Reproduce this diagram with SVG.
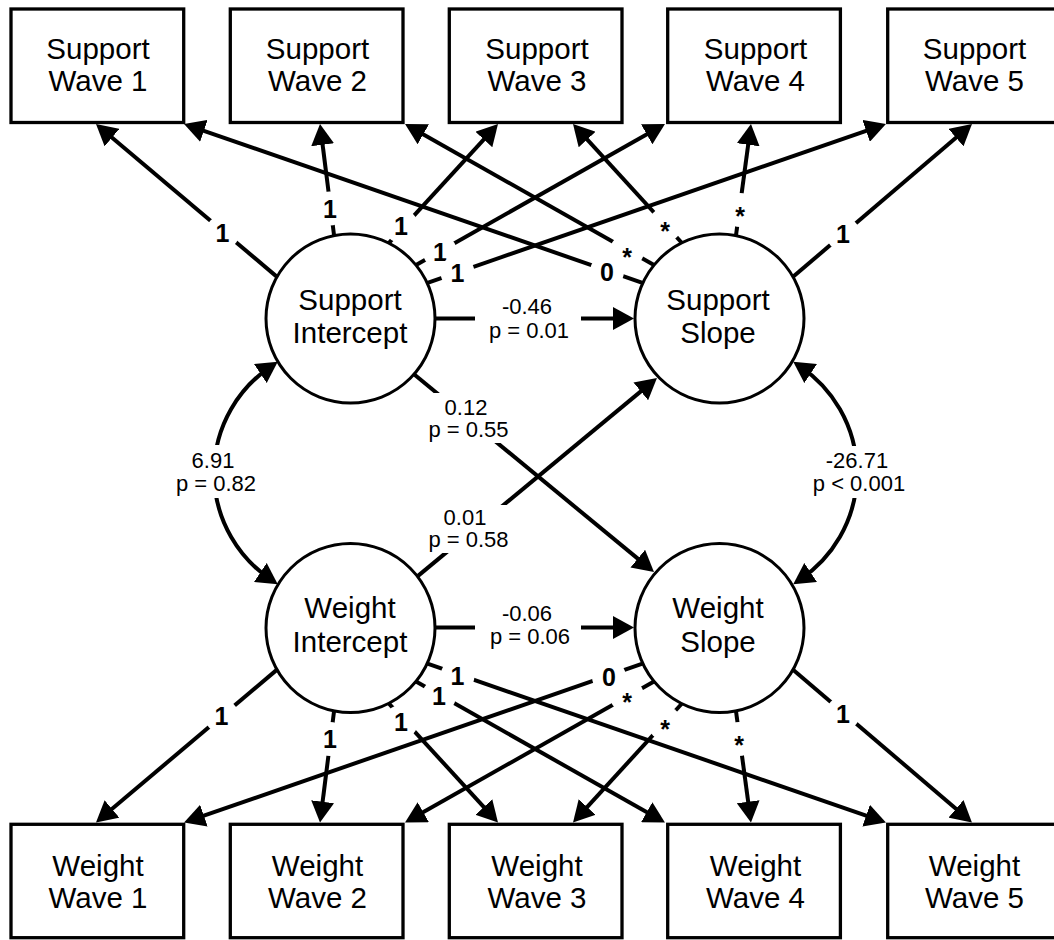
<svg xmlns="http://www.w3.org/2000/svg" width="1054" height="940" viewBox="0 0 1054 940">
<defs>
<marker id="ah" markerUnits="userSpaceOnUse" markerWidth="21" markerHeight="23" viewBox="0 0 21 23" refX="13" refY="11.5" orient="auto-start-reverse">
<path d="M0,0 L21,11.5 L0,23 Z" fill="#000"/>
</marker>
<style>
.box{fill:#fff;stroke:#000;stroke-width:3.3}
.lat{fill:#fff;stroke:#000;stroke-width:3}
.ntx{font-family:"Liberation Sans",Arial,sans-serif;font-size:29.5px;fill:#000;text-anchor:middle}
.c{fill:none;stroke:#000;stroke-width:4;marker-end:url(#ah)}
.cb{fill:none;stroke:#000;stroke-width:4;marker-start:url(#ah);marker-end:url(#ah)}
.lb{font-family:"Liberation Sans",Arial,sans-serif;font-size:25px;font-weight:bold;text-anchor:middle;fill:#000}
.pl{font-family:"Liberation Sans",Arial,sans-serif;font-size:22px;text-anchor:middle;fill:#000}
.gap{fill:#fff}
</style>
</defs>
<rect width="1054" height="940" fill="#fff"/>

<g id="connectors">
<!-- Support intercept loadings -->
<path class="c" d="M279.1,278.6 L102.1,129.2"/>
<path class="c" d="M334.5,239 L321,131.9"/>
<path class="c" d="M385.3,246.9 L492.6,129.9"/>
<path class="c" d="M412.5,267 L658,127.9"/>
<path class="c" d="M423.2,284.3 L878.4,126.6"/>
<!-- Support slope loadings -->
<path class="c" d="M791,278.6 L965.9,129.2"/>
<path class="c" d="M735.5,239 L749.9,131.9"/>
<path class="c" d="M684.7,246 L578.4,129.9"/>
<path class="c" d="M657.5,267 L412,127.9"/>
<path class="c" d="M646.8,284.3 L191.6,126.6"/>
<!-- Weight intercept loadings -->
<path class="c" d="M279.1,667.9 L102.1,817.3"/>
<path class="c" d="M334.5,707.5 L321,814.6"/>
<path class="c" d="M385.3,699.6 L492.6,816.6"/>
<path class="c" d="M412.5,679.5 L658,818.6"/>
<path class="c" d="M423.2,662.2 L878.4,819.9"/>
<!-- Weight slope loadings -->
<path class="c" d="M791,667.9 L965.9,817.3"/>
<path class="c" d="M735.5,707.5 L749.9,814.6"/>
<path class="c" d="M684.7,700.5 L578.4,816.6"/>
<path class="c" d="M657.5,679.5 L412,818.6"/>
<path class="c" d="M646.8,662.2 L191.6,819.9"/>
<!-- Structural paths -->
<path class="c" d="M431,318.5 L626,318.5"/>
<path class="c" d="M431,627.5 L626,627.5"/>
<path class="c" d="M411.9,372.5 L647.8,566.9"/>
<path class="c" d="M415.9,577.6 L650.8,383.1"/>
<!-- Covariances -->
<path class="cb" d="M271.1,366.3 A128.3,128.3 0 0 0 271.1,579.7"/>
<path class="cb" d="M799.9,366.3 A128.3,128.3 0 0 1 799.9,579.7"/>
</g>

<g id="edge-labels">
<circle class="gap" cx="222.5" cy="232.5" r="17"/><text class="lb" x="222.5" y="241.5">1</text>
<circle class="gap" cx="330" cy="208.5" r="17"/><text class="lb" x="330" y="217.5">1</text>
<circle class="gap" cx="401" cy="226" r="17"/><text class="lb" x="401" y="235">1</text>
<circle class="gap" cx="440" cy="252" r="17"/><text class="lb" x="440" y="261">1</text>
<circle class="gap" cx="457.5" cy="272.5" r="17"/><text class="lb" x="457.5" y="281.5">1</text>
<circle class="gap" cx="843" cy="234" r="17"/><text class="lb" x="843" y="243">1</text>
<circle class="gap" cx="740" cy="210" r="17"/><text class="lb" x="740" y="224.5">*</text>
<circle class="gap" cx="665" cy="225" r="17"/><text class="lb" x="665" y="239.5">*</text>
<circle class="gap" cx="627" cy="251" r="17"/><text class="lb" x="627" y="265.5">*</text>
<circle class="gap" cx="607" cy="271.5" r="17"/><text class="lb" x="607" y="280.5">0</text>

<circle class="gap" cx="221.5" cy="716" r="17"/><text class="lb" x="221.5" y="725">1</text>
<circle class="gap" cx="330" cy="739" r="17"/><text class="lb" x="330" y="748">1</text>
<circle class="gap" cx="401" cy="722" r="17"/><text class="lb" x="401" y="731">1</text>
<circle class="gap" cx="439" cy="696" r="17"/><text class="lb" x="439" y="705">1</text>
<circle class="gap" cx="457.5" cy="676" r="17"/><text class="lb" x="457.5" y="685">1</text>
<circle class="gap" cx="843" cy="713.5" r="17"/><text class="lb" x="843" y="722.5">1</text>
<circle class="gap" cx="739" cy="739" r="17"/><text class="lb" x="739" y="753.5">*</text>
<circle class="gap" cx="665" cy="723.5" r="17"/><text class="lb" x="665" y="738">*</text>
<circle class="gap" cx="627" cy="696" r="17"/><text class="lb" x="627" y="710.5">*</text>
<circle class="gap" cx="609" cy="677" r="17"/><text class="lb" x="609" y="686">0</text>

<rect class="gap" x="475" y="296" width="106" height="46"/>
<text class="pl" x="527" y="314">-0.46</text><text class="pl" x="529" y="338">p = 0.01</text>
<rect class="gap" x="475" y="605" width="106" height="46"/>
<text class="pl" x="527" y="620.5">-0.06</text><text class="pl" x="530" y="644">p = 0.06</text>
<rect class="gap" x="426" y="393" width="84" height="50"/>
<text class="pl" x="466" y="415">0.12</text><text class="pl" x="468.5" y="437">p = 0.55</text>
<rect class="gap" x="426" y="505" width="84" height="48"/>
<text class="pl" x="465" y="525">0.01</text><text class="pl" x="468.5" y="547">p = 0.58</text>
<rect class="gap" x="168" y="445" width="96" height="53"/>
<text class="pl" x="213" y="468.3">6.91</text><text class="pl" x="216" y="490.7">p = 0.82</text>
<rect class="gap" x="806" y="446" width="106" height="52"/>
<text class="pl" x="857" y="468.3">-26.71</text><text class="pl" x="859" y="490.7">p &lt; 0.001</text>
</g>

<g id="support-intercept"><circle class="lat" cx="350.5" cy="318.5" r="84.5"/><text class="ntx" x="350" y="310">Support</text><text class="ntx" x="350" y="342.7">Intercept</text></g>
<g id="support-slope"><circle class="lat" cx="719.5" cy="318.5" r="84.5"/><text class="ntx" x="718" y="310">Support</text><text class="ntx" x="718" y="342.7">Slope</text></g>
<g id="weight-intercept"><circle class="lat" cx="350.5" cy="628" r="84.5"/><text class="ntx" x="350" y="618.3">Weight</text><text class="ntx" x="350" y="651.7">Intercept</text></g>
<g id="weight-slope"><circle class="lat" cx="719.5" cy="628" r="84.5"/><text class="ntx" x="718" y="618.3">Weight</text><text class="ntx" x="718" y="651.7">Slope</text></g>

<g id="support-wave-1"><rect class="box" x="11" y="9" width="172.7" height="113.5"/><text class="ntx" x="98" y="59.3">Support</text><text class="ntx" x="98" y="90.7">Wave 1</text></g>
<g id="support-wave-2"><rect class="box" x="230.3" y="9" width="172.7" height="113.5"/><text class="ntx" x="317.5" y="59.3">Support</text><text class="ntx" x="317.5" y="90.7">Wave 2</text></g>
<g id="support-wave-3"><rect class="box" x="449.3" y="9" width="172.7" height="113.5"/><text class="ntx" x="537" y="59.3">Support</text><text class="ntx" x="537" y="90.7">Wave 3</text></g>
<g id="support-wave-4"><rect class="box" x="667.7" y="9" width="172.7" height="113.5"/><text class="ntx" x="755.5" y="59.3">Support</text><text class="ntx" x="755.5" y="90.7">Wave 4</text></g>
<g id="support-wave-5"><rect class="box" x="887.7" y="9" width="172.7" height="113.5"/><text class="ntx" x="974.5" y="59.3">Support</text><text class="ntx" x="974.5" y="90.7">Wave 5</text></g>

<g id="weight-wave-1"><rect class="box" x="11" y="824.3" width="172.7" height="113.4"/><text class="ntx" x="98" y="876">Weight</text><text class="ntx" x="98" y="908.3">Wave 1</text></g>
<g id="weight-wave-2"><rect class="box" x="230.3" y="824.3" width="172.7" height="113.4"/><text class="ntx" x="317.5" y="876">Weight</text><text class="ntx" x="317.5" y="908.3">Wave 2</text></g>
<g id="weight-wave-3"><rect class="box" x="449.3" y="824.3" width="172.7" height="113.4"/><text class="ntx" x="537" y="876">Weight</text><text class="ntx" x="537" y="908.3">Wave 3</text></g>
<g id="weight-wave-4"><rect class="box" x="667.7" y="824.3" width="172.7" height="113.4"/><text class="ntx" x="755.5" y="876">Weight</text><text class="ntx" x="755.5" y="908.3">Wave 4</text></g>
<g id="weight-wave-5"><rect class="box" x="887.7" y="824.3" width="172.7" height="113.4"/><text class="ntx" x="974.5" y="876">Weight</text><text class="ntx" x="974.5" y="908.3">Wave 5</text></g>
</svg>
